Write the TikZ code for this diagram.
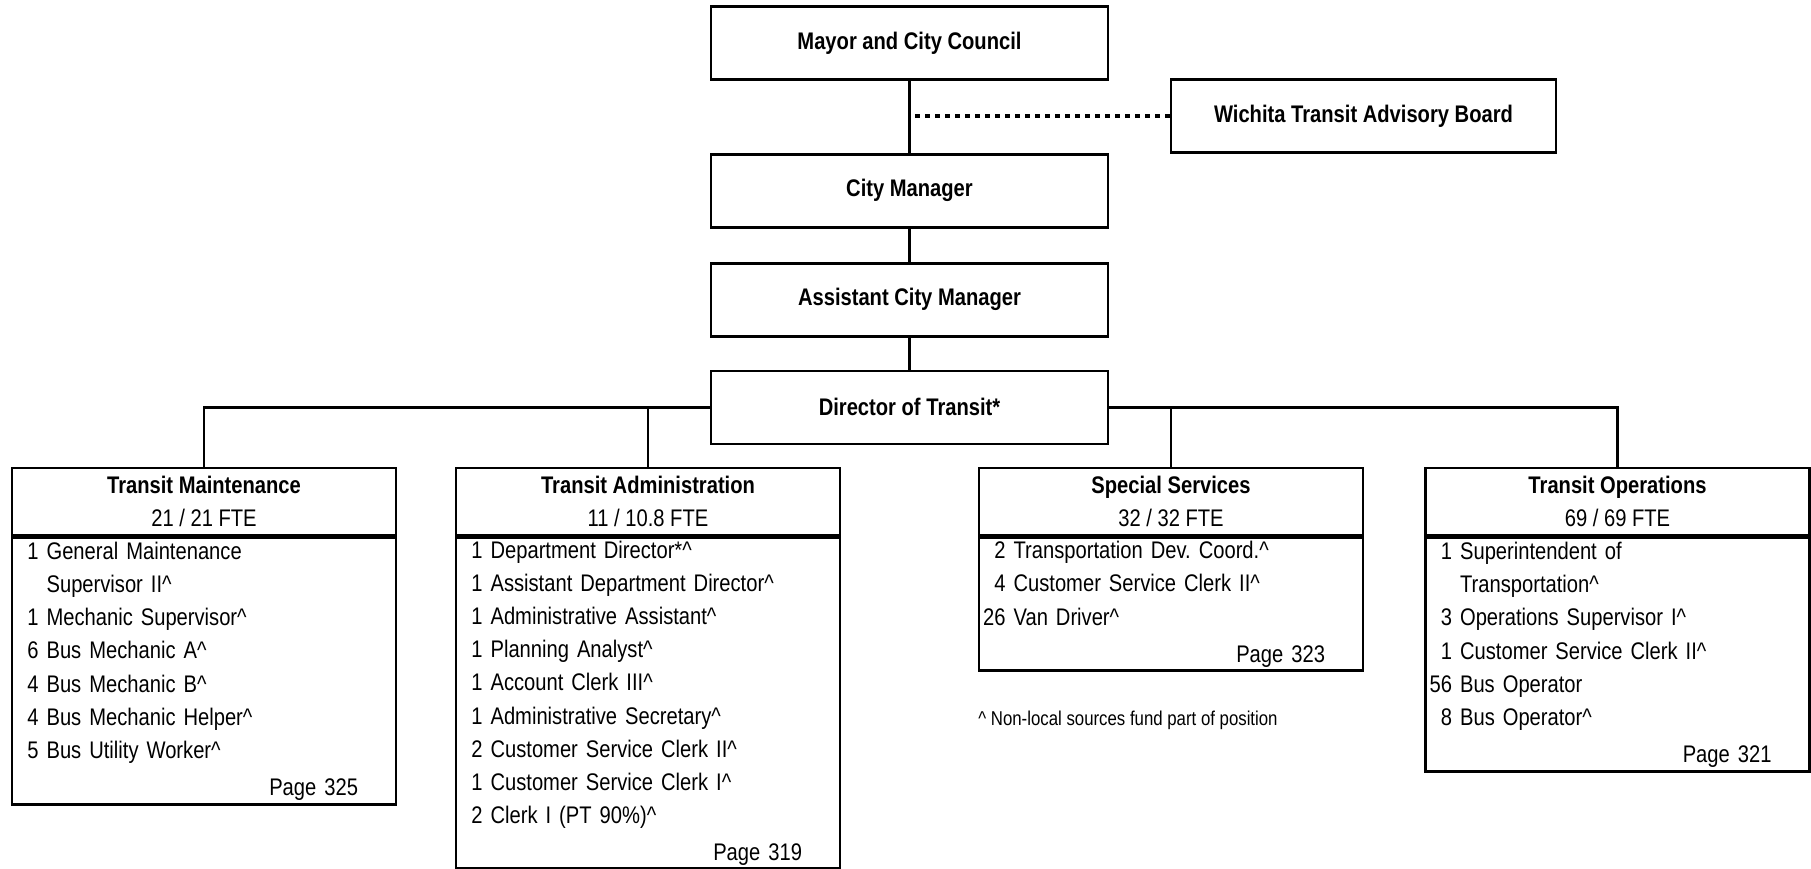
\documentclass[tikz,border=0pt]{standalone}
\usepackage{fontspec}
\setmainfont{Liberation Sans}[FakeStretch=0.84]
\usetikzlibrary{positioning}

\newcommand{\jobrow}[2]{\makebox[11.3pt][r]{#1} #2}
\newcommand{\caret}{\textasciicircum}
\newcommand{\pagetag}[1]{\hspace*{0pt plus 1filll}Page #1\hspace*{17pt}\mbox{}}

\begin{document}
\frenchspacing
\begin{tikzpicture}[x=0.5pt,y=-0.5pt,font=\fontsize{12}{16.6}\selectfont]
		  \tikzstyle{topbox}=[draw,line width=1.4pt,minimum width=198.5pt,minimum height=36.5pt,inner sep=0pt,font=\fontsize{12}{16.6}\selectfont\bfseries]
		  \tikzstyle{headbox}=[draw,line width=1.4pt,minimum width=192pt,minimum height=33.5pt,inner sep=0pt,align=center]
		  \tikzstyle{listbox}=[draw,line width=1.4pt,text width=188pt,inner xsep=2pt,inner ysep=0pt,align=left]
		  \tikzstyle{link}=[line width=1.2pt]
		  \tikzstyle{dashline}=[line width=1.6pt,dash pattern=on 2.2pt off 2.8pt]
		  \useasboundingbox (0,0) rectangle (1811,868);

		  \node[topbox] (mayor) at (909.5,43) {Mayor and City Council};
		  \node[topbox] (city) [below=36pt of mayor] {City Manager};
		  \node[topbox] (asst) [below=16.5pt of city] {Assistant City Manager};
		  \node[topbox] (director) [below=16pt of asst] {Director of Transit*};
		  \node[topbox,minimum width=192.5pt] (board) at (1363.5,116) {Wichita Transit Advisory Board};

		  \node[headbox] (maint) at (204,501.5) {\textbf{Transit Maintenance}\\21 / 21 FTE};
		  \node[listbox,minimum height=133.5pt] (maintlist) [below=0pt of maint] {%
		    \jobrow{1}{General Maintenance}\\
		    \jobrow{}{Supervisor II\caret}\\
		    \jobrow{1}{Mechanic Supervisor\caret}\\
		    \jobrow{6}{Bus Mechanic A\caret}\\
		    \jobrow{4}{Bus Mechanic B\caret}\\
		    \jobrow{4}{Bus Mechanic Helper\caret}\\
		    \jobrow{5}{Bus Utility Worker\caret}\\[2pt]
		    \pagetag{325}};

		  \node[headbox] (admin) at (648,501.5) {\textbf{Transit Administration}\\11 / 10.8 FTE};
		  \node[listbox,minimum height=165.5pt] (adminlist) [below=0pt of admin] {%
		    \jobrow{1}{Department Director*\caret}\\
		    \jobrow{1}{Assistant Department Director\caret}\\
		    \jobrow{1}{Administrative Assistant\caret}\\
		    \jobrow{1}{Planning Analyst\caret}\\
		    \jobrow{1}{Account Clerk III\caret}\\
		    \jobrow{1}{Administrative Secretary\caret}\\
		    \jobrow{2}{Customer Service Clerk II\caret}\\
		    \jobrow{1}{Customer Service Clerk I\caret}\\
		    \jobrow{2}{Clerk I (PT 90\%)\caret}\\[2pt]
		    \pagetag{319}};

		  \node[headbox] (special) at (1171,501.5) {\textbf{Special Services}\\32 / 32 FTE};
		  \node[listbox,minimum height=66.5pt] (speciallist) [below=0pt of special] {%
		    \jobrow{2}{Transportation Dev. Coord.\caret}\\
		    \jobrow{4}{Customer Service Clerk II\caret}\\
		    \jobrow{26}{Van Driver\caret}\\[2pt]
		    \pagetag{323}};

		  \node[headbox] (ops) at (1617.5,501.5) {\textbf{Transit Operations}\\69 / 69 FTE};
		  \node[listbox,minimum height=117pt] (opslist) [below=0pt of ops] {%
		    \jobrow{1}{Superintendent of}\\
		    \jobrow{}{Transportation\caret}\\
		    \jobrow{3}{Operations Supervisor I\caret}\\
		    \jobrow{1}{Customer Service Clerk II\caret}\\
		    \jobrow{56}{Bus Operator}\\
		    \jobrow{8}{Bus Operator\caret}\\[2pt]
		    \pagetag{321}};

		  \node[font=\fontsize{10}{12}\selectfont] (note) at (1128,720) {\caret{} Non-local sources fund part of position};

		  \draw[link] (mayor) -- (city);
		  \draw[link] (city) -- (asst);
		  \draw[link] (asst) -- (director);
		  \draw[dashline] (board) -- (board.west -| mayor.south);
		  \draw[link] (director) -| (maint);
		  \draw[link] (director) -| (ops);
		  \draw[link] (admin) -- (admin.north |- director.west);
		  \draw[link] (special) -- (special.north |- director.east);
		\end{tikzpicture}
\end{document}
